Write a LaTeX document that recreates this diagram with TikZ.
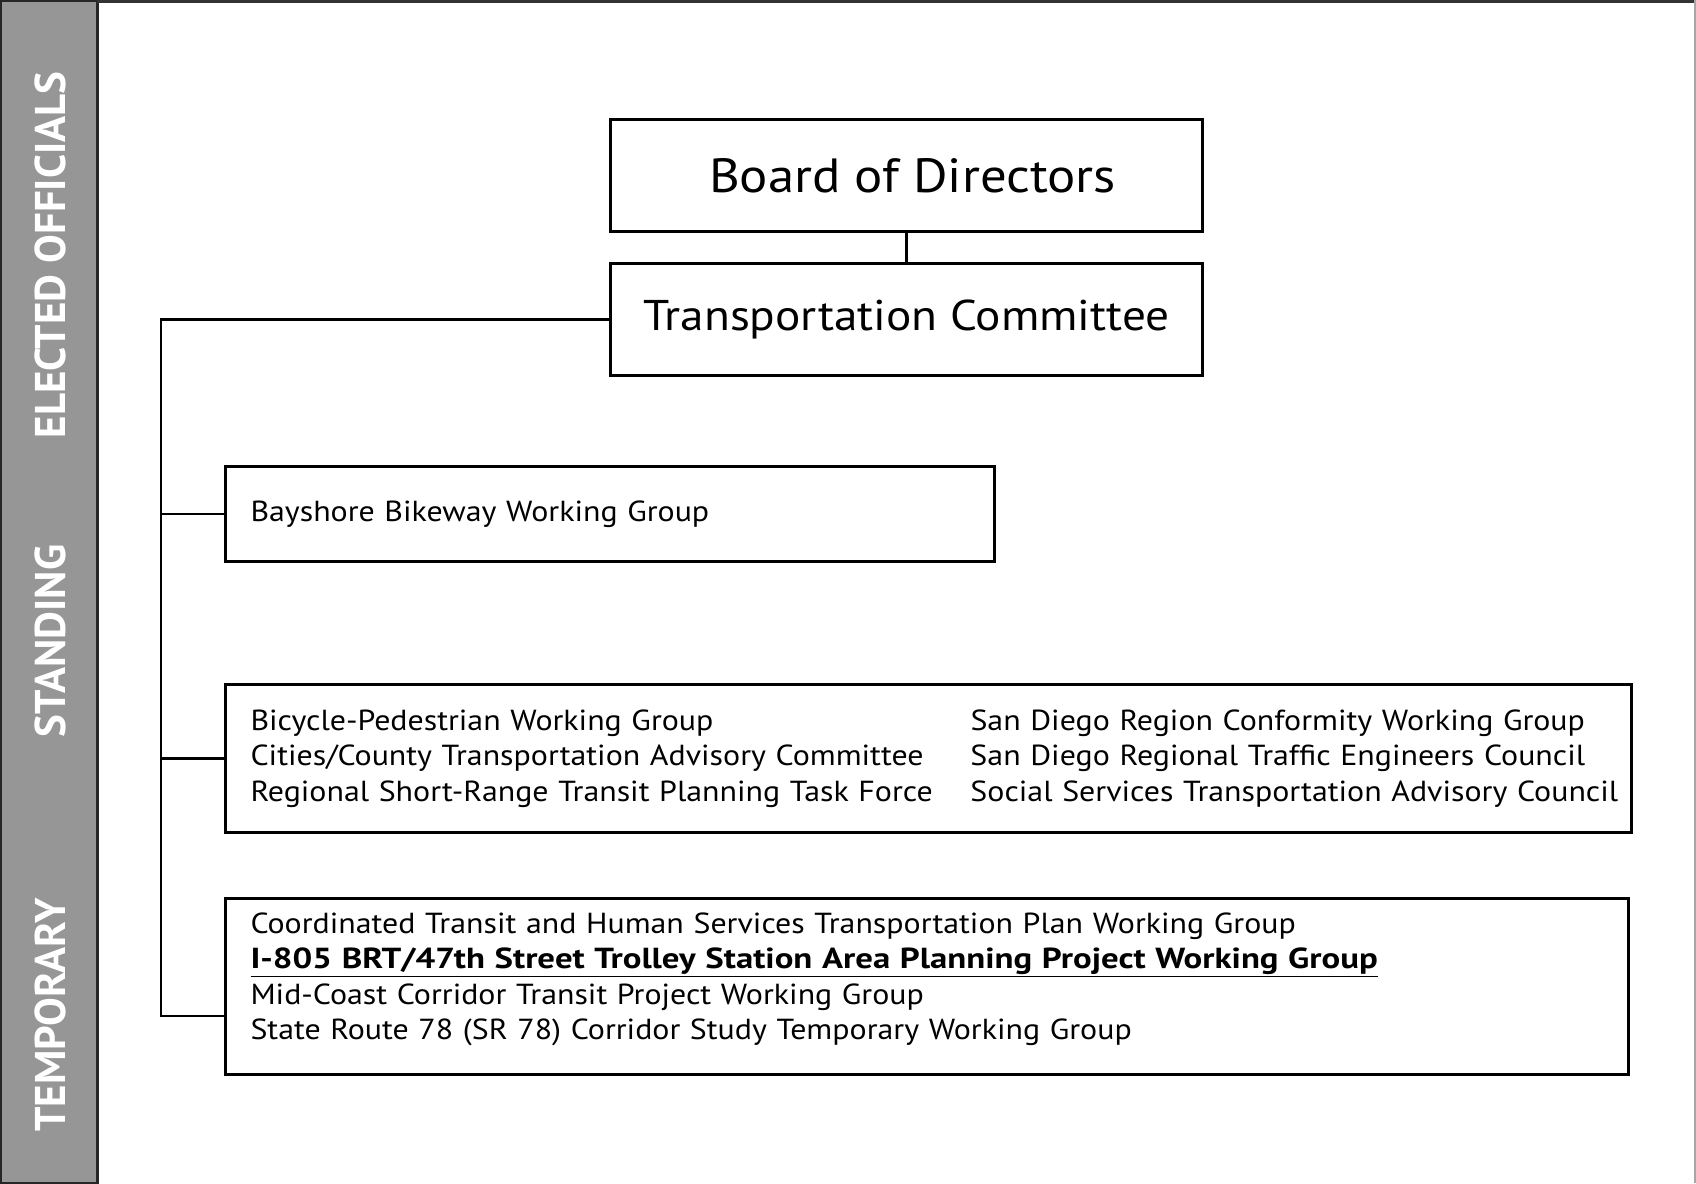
\documentclass[tikz,border=0pt]{standalone}
\usepackage{fontspec}
\setmainfont{PT Sans}[FakeStretch=1.1]
\newfontfamily\sidefont{PT Sans}
\newfontfamily\widebold[FakeStretch=1.2]{PT Sans}
\definecolor{sidegray}{HTML}{969696}
\begin{document}
\begin{tikzpicture}[x=1pt, y=-1pt,
        box/.style={draw, line width=3pt, anchor=north west, inner sep=0pt},
        groupbox/.style={box, inner xsep=25pt, align=left, font=\fontsize{29}{35.5}\selectfont},
        link/.style={line width=2.5pt},
        side/.style={rotate=90, text=white, font=\sidefont\bfseries\fontsize{43}{43}\selectfont}]
                \useasboundingbox (0,0) rectangle (1696,1183);
                
                \draw[fill=sidegray, draw=black!85, line width=3pt] (0,0) rectangle (97,1183);
                \draw[black!80, line width=3pt] (97,1) -- (1696,1);
                \draw[gray!70, line width=2pt] (1695,0) -- (1695,1183);
                
                \node[side] (elected) at (50,255) {ELECTED OFFICIALS};
                \node[side] (standing) at (50,641) {STANDING};
                \node[side] (temporary) at (50,1015) {TEMPORARY};
                
                \node[box, minimum width=592pt, minimum height=112pt, font=\fontsize{48}{48}\selectfont] (board) at (609,118) {\hspace{12pt}Board of Directors};
                \node[box, minimum width=592pt, minimum height=112pt, font=\fontsize{43}{43}\selectfont] (tc) at (609,262) {Transportation Committee};
                
                \node[groupbox, text width=719pt, minimum height=95pt] (bay) at (224,465) {Bayshore Bikeway Working Group};
                \node[groupbox, text width=1356pt, minimum height=148pt] (stand) at (224,683) {%
                    \begin{tabular}{@{}p{720pt}@{}l@{}}
                        Bicycle-Pedestrian Working Group & San Diego Region Conformity Working Group\\
                        Cities/County Transportation Advisory Committee & San Diego Regional Traffic Engineers Council\\
                        Regional Short-Range Transit Planning Task Force & Social Services Transportation Advisory Council
                    \end{tabular}};
                \node[groupbox, text width=1353pt, minimum height=176pt] (temp) at (224,897) {%
                    Coordinated Transit and Human Services Transportation Plan Working Group\\
                    \underline{\widebold\bfseries I-805 BRT/47th Street Trolley Station Area Planning Project Working Group}\\
                    Mid-Coast Corridor Transit Project Working Group\\
                    State Route 78 (SR 78) Corridor Study Temporary Working Group\rule[-21pt]{0pt}{1pt}};
                
                \coordinate (spine) at (161,0);
                \coordinate (tbranch) at (224,1016);
                
                \draw[link] (board.south) -- (tc.north);
                \draw[link] (tc.west) -| (spine |- tbranch) -- (tbranch);
                \draw[link] (spine |- bay.west) -- (bay.west);
                \draw[link] (spine |- stand.west) -- (stand.west);
            \end{tikzpicture}
\end{document}
